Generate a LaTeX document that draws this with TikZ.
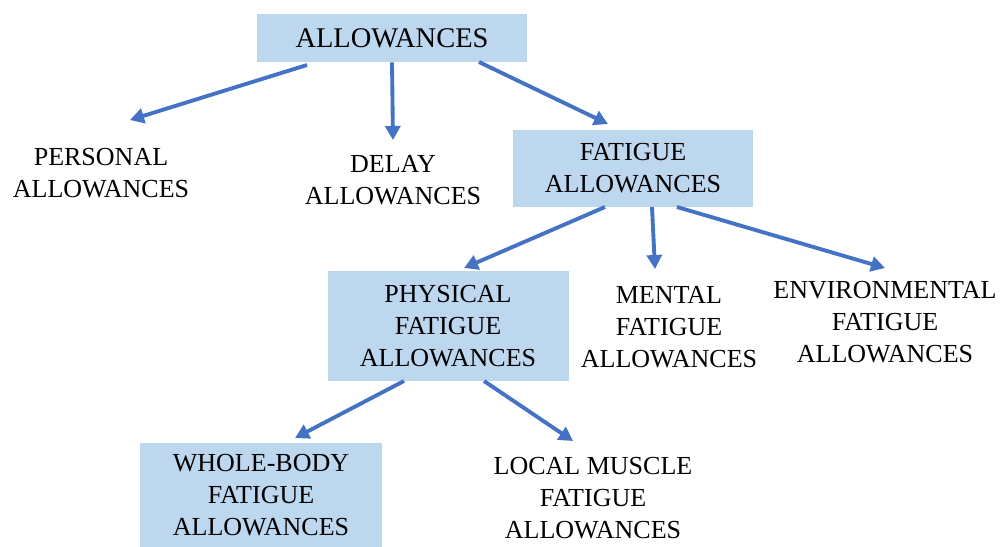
\documentclass[tikz,border=0pt]{standalone}
\usepackage{fontspec}
\setmainfont{Liberation Serif}
\usepackage{tikz}
\usetikzlibrary{positioning,arrows.meta,calc}
\usepackage{xcolor}
\definecolor{boxblue}{RGB}{189,215,238}
\definecolor{arrowblue}{RGB}{68,114,196}

\begin{document}
\begin{tikzpicture}[
  cat/.style={rectangle,fill=boxblue,inner sep=0pt,align=center,
              font=\fontsize{14.8}{18}\selectfont},
  lbl/.style={inner sep=0pt,align=center,font=\fontsize{14.8}{18}\selectfont},
  link/.style={-{Triangle[length=0.28cm,width=0.3cm]},arrowblue,line width=2.2pt}]
\useasboundingbox (0,0) rectangle (20.14,-10.94);
\node[cat,minimum width=5.4cm,minimum height=0.96cm,
      font=\fontsize{16.2}{19}\selectfont] (allow) at (7.84,-0.76) {ALLOWANCES};
\node[cat,minimum width=4.8cm,minimum height=1.54cm] (fatigue) at (12.66,-3.36)
  {FATIGUE\\ALLOWANCES};
\node[cat,minimum width=4.82cm,minimum height=2.2cm] (physical) at (8.96,-6.52)
  {PHYSICAL\\FATIGUE\\ALLOWANCES};
\node[cat,minimum width=4.84cm,minimum height=2.08cm] (whole) at (5.22,-9.9)
  {WHOLE-BODY\\FATIGUE\\ALLOWANCES};
\node[lbl] (personal) at (2.02,-3.46) {PERSONAL\\ALLOWANCES};
\node[lbl] (delay) at (7.86,-3.6) {DELAY\\ALLOWANCES};
\node[lbl] (mental) at (13.38,-6.54) {MENTAL\\FATIGUE\\ALLOWANCES};
\node[lbl] (env) at (17.7,-6.44) {ENVIRONMENTAL\\FATIGUE\\ALLOWANCES};
\node[lbl] (local) at (11.86,-9.96) {LOCAL MUSCLE\\FATIGUE\\ALLOWANCES};
\draw[link] ([shift={(-1.7,-0.54)}]allow.center) -- ([shift={(0.58,1.06)}]personal.center);
\draw[link] (allow.south) -- ([shift={(0,0.8)}]delay.center);
\draw[link] ([shift={(1.74,-0.48)}]allow.center) -- ([shift={(-0.5,0.88)}]fatigue.center);
\draw[link] ([shift={(-0.56,-0.78)}]fatigue.center) -- ([shift={(0.32,1.16)}]physical.center);
\draw[link] ([shift={(0.38,-0.78)}]fatigue.center) -- ([shift={(-0.28,1.16)}]mental.center);
\draw[link] ([shift={(0.88,-0.78)}]fatigue.center) -- ([shift={(0,1.08)}]env.center);
\draw[link] ([shift={(-0.88,-1.1)}]physical.center) -- ([shift={(0.68,1.14)}]whole.center);
\draw[link] ([shift={(0.72,-1.1)}]physical.center) -- ([shift={(-0.4,1.14)}]local.center);
\end{tikzpicture}
\end{document}
